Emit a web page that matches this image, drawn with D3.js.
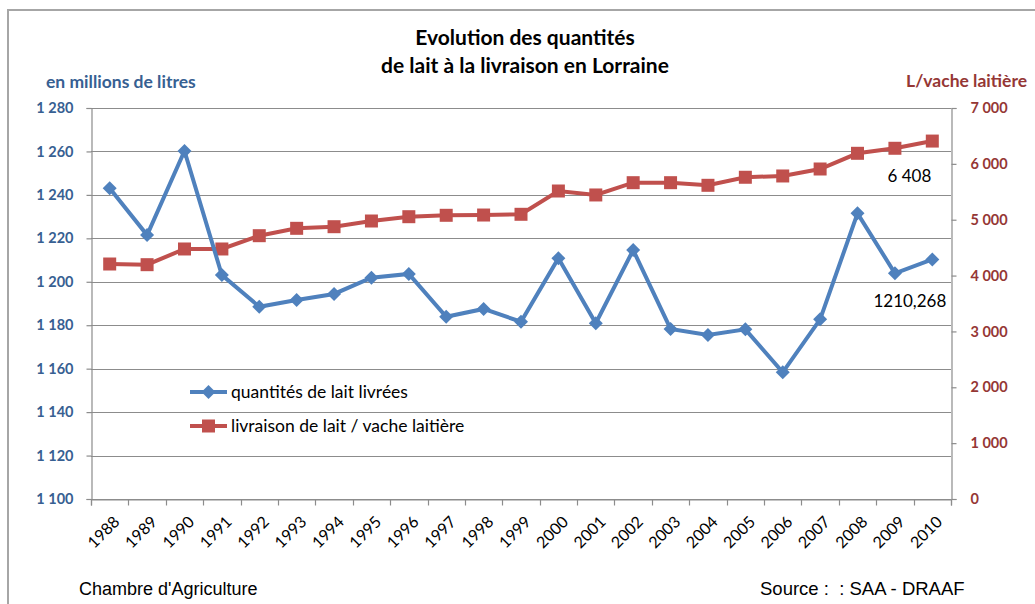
<!DOCTYPE html>
<html>
<head>
<meta charset="utf-8">
<script src="https://cdn.jsdelivr.net/npm/d3@7"></script>
<style>
  body { margin: 0; background: #fff; }
  text { font-family: Lato, "Open Sans", sans-serif; }
</style>
</head>
<body>
<script>
// données
const years = ["1988", "1989", "1990", "1991", "1992", "1993", "1994", "1995", "1996", "1997", "1998",
    "1999", "2000", "2001", "2002", "2003", "2004", "2005", "2006", "2007", "2008", "2009", "2010"];
const quantites = [1243.0, 1221.5, 1260.2, 1203.1, 1188.5, 1191.6, 1194.4, 1201.9, 1203.6, 1183.9, 1187.5,
    1181.6, 1210.8, 1180.9, 1214.6, 1178.3, 1175.5, 1178.1, 1158.3, 1182.7, 1231.5, 1203.9, 1210.268];
const livraisonVache = [4207, 4195, 4476, 4476, 4714, 4846, 4875, 4977, 5054, 5079, 5084,
    5097, 5514, 5443, 5663, 5663, 5616, 5760, 5783, 5908, 6189, 6279, 6408];
const leftTicks = [1100, 1120, 1140, 1160, 1180, 1200, 1220, 1240, 1260, 1280];
const rightTicks = [0, 1000, 2000, 3000, 4000, 5000, 6000, 7000];
const seriesNames = ["quantités de lait livrées", "livraison de lait / vache laitière"];

const W = 1035, H = 604;
const margin = { left: 91, right: 84, top: 108, bottom: 105 };
const blue = "#4f81bd", red = "#c0504d";

const fr = d3.formatLocale({ decimal: ",", thousands: "\u00a0", grouping: [3], currency: ["", " €"] });
const fmt = fr.format(",d");

const svg = d3.select("body").append("svg")
    .attr("width", W)
    .attr("height", H);

// cadre
svg.append("rect")
    .attr("x", 8).attr("y", 10)
    .attr("width", W).attr("height", H)
    .attr("fill", "none")
    .attr("stroke", "#a6a6a6")
    .attr("stroke-width", 2);

const x = d3.scaleBand()
    .domain(years)
    .range([margin.left, W - margin.right]);
const yL = d3.scaleLinear()
    .domain([1100, 1280])
    .range([H - margin.bottom, margin.top]);
const yR = d3.scaleLinear()
    .domain([0, 7000])
    .range([H - margin.bottom, margin.top]);

// grille
svg.append("g")
    .selectAll("line")
    .data(leftTicks)
    .enter()
    .append("line")
    .attr("x1", margin.left)
    .attr("x2", W - margin.right)
    .attr("y1", (d) => Math.round(yL(d)) + 0.5)
    .attr("y2", (d) => Math.round(yL(d)) + 0.5)
    .attr("stroke", "#8c8c8c")
    .attr("stroke-width", 1.2);

// axe gauche
const axL = svg.append("g")
    .attr("transform", "translate(" + (margin.left + 0.5) + ",0)")
    .call(d3.axisLeft(yL).tickValues(leftTicks).tickSize(5).tickPadding(13).tickFormat(fmt));
axL.selectAll("text")
    .attr("fill", "#376092")
    .attr("font-size", 14.5)
    .attr("font-weight", "bold")
    .style("font-family", "Lato, sans-serif");

// axe droit
const axR = svg.append("g")
    .attr("transform", "translate(" + (W - margin.right + 0.5) + ",0)")
    .call(d3.axisRight(yR).tickValues(rightTicks).tickSize(5).tickPadding(14).tickFormat(fmt));
axR.selectAll("text")
    .attr("fill", "#953735")
    .attr("font-size", 14.5)
    .attr("font-weight", "bold")
    .style("font-family", "Lato, sans-serif");

// axe des années
const axX = svg.append("g")
    .attr("transform", "translate(0," + (H - margin.bottom + 0.5) + ")")
    .call(d3.axisBottom(x).tickSize(6).tickFormat(""));
axX.selectAll(".tick").remove();
const bounds = years.map((d) => x(d)).concat([W - margin.right]);
axX.selectAll("line.bound")
    .data(bounds)
    .enter()
    .append("line")
    .attr("class", "bound")
    .attr("x1", (d) => Math.round(d) + 0.5)
    .attr("x2", (d) => Math.round(d) + 0.5)
    .attr("y1", 0)
    .attr("y2", 6);
svg.selectAll(".domain, .tick line, line.bound")
    .attr("stroke", "#8c8c8c")
    .attr("stroke-width", 1.2);

svg.append("g")
    .selectAll("text")
    .data(years)
    .enter()
    .append("text")
    .attr("transform", (d) => "translate(" + (x(d) + x.bandwidth() / 2 + 3) + "," + (H - margin.bottom + 16) + ") rotate(-45)")
    .attr("text-anchor", "end")
    .attr("dy", "0.7em")
    .attr("font-size", 16)
    .attr("fill", "#000")
    .text((d) => d);

// courbes
const cx = (d, i) => x(years[i]) + x.bandwidth() / 2;
const lineL = d3.line().x(cx).y((d) => yL(d));
const lineR = d3.line().x(cx).y((d) => yR(d));

svg.append("path")
    .datum(livraisonVache)
    .attr("d", lineR)
    .attr("fill", "none")
    .attr("stroke", red)
    .attr("stroke-width", 4);
svg.append("g")
    .selectAll("path")
    .data(livraisonVache)
    .enter()
    .append("path")
    .attr("transform", (d, i) => "translate(" + cx(d, i) + "," + yR(d) + ")")
    .attr("d", d3.symbol(d3.symbolSquare, 169))
    .attr("fill", red);

svg.append("path")
    .datum(quantites)
    .attr("d", lineL)
    .attr("fill", "none")
    .attr("stroke", blue)
    .attr("stroke-width", 4);
svg.append("g")
    .selectAll("path")
    .data(quantites)
    .enter()
    .append("path")
    .attr("transform", (d, i) => "translate(" + cx(d, i) + "," + yL(d) + ") rotate(45)")
    .attr("d", d3.symbol(d3.symbolSquare, 98))
    .attr("fill", blue);

// étiquettes des dernières valeurs
const last = years.length - 1;
svg.append("text")
    .attr("x", cx(0, last) - 1)
    .attr("y", yR(livraisonVache[last]) + 41)
    .attr("text-anchor", "end")
    .attr("font-size", 17)
    .text(fmt(livraisonVache[last]));
svg.append("text")
    .attr("x", cx(0, last) + 14)
    .attr("y", yL(quantites[last]) + 48)
    .attr("text-anchor", "end")
    .attr("font-size", 17)
    .text(fr.format(",.3f")(quantites[last]).replace(/\u00a0/g, ""));

// légende
const legend = svg.append("g").attr("transform", "translate(190,392)");
[[blue, "diamond"], [red, "square"]].forEach((s, i) => {
    const g = legend.append("g").attr("transform", "translate(0," + (i * 34) + ")");
    g.append("line")
        .attr("x1", 0).attr("x2", 37)
        .attr("stroke", s[0]).attr("stroke-width", 4);
    g.append("path")
        .attr("transform", "translate(18.5,0)" + (s[1] == "diamond" ? " rotate(45)" : ""))
        .attr("d", d3.symbol(d3.symbolSquare, s[1] == "diamond" ? 98 : 169))
        .attr("fill", s[0]);
    g.append("text")
        .attr("x", 41)
        .attr("dy", "0.35em")
        .attr("font-size", 17.5)
        .text(seriesNames[i]);
});

// titres
svg.append("text")
    .attr("x", 525).attr("y", 45)
    .attr("text-anchor", "middle")
    .attr("font-size", 21).attr("font-weight", "bold")
    .text("Evolution des quantités");
svg.append("text")
    .attr("x", 525).attr("y", 73)
    .attr("text-anchor", "middle")
    .attr("font-size", 21).attr("font-weight", "bold")
    .text("de lait à la livraison en Lorraine");
svg.append("text")
    .attr("x", 46).attr("y", 88)
    .attr("font-size", 17.5).attr("font-weight", "bold")
    .attr("fill", "#376092")
    .text("en millions de litres");
svg.append("text")
    .attr("x", 1027).attr("y", 87)
    .attr("text-anchor", "end")
    .attr("font-size", 17.5).attr("font-weight", "bold")
    .attr("fill", "#953735")
    .text("L/vache laitière");

// sources
svg.append("text")
    .attr("x", 79).attr("y", 595)
    .attr("font-size", 18)
    .style("font-family", "'Liberation Sans', Arial, sans-serif")
    .text("Chambre d'Agriculture");
svg.append("text")
    .attr("x", 760).attr("y", 595)
    .attr("font-size", 18.5)
    .style("font-family", "'Liberation Sans', Arial, sans-serif")
    .style("white-space", "pre")
    .text("Source :  : SAA - DRAAF");
</script>
</body>
</html>
